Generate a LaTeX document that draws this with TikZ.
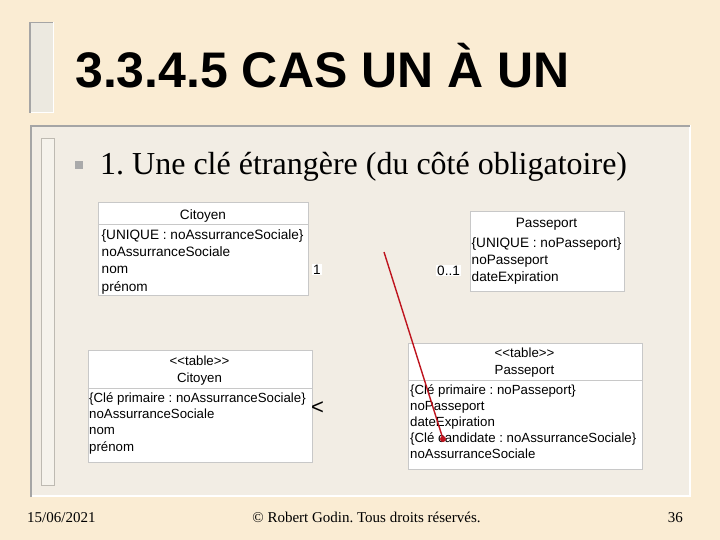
\documentclass[tikz,border=0pt]{standalone}
\usepackage{fontspec}
\setmainfont{Liberation Serif}
\setsansfont{Liberation Sans}
\frenchspacing
\definecolor{bgbeige}{RGB}{250,236,211}
\definecolor{framefill}{RGB}{242,237,228}
\definecolor{framegray}{RGB}{165,165,165}
\definecolor{barfill}{RGB}{236,233,224}
\definecolor{innerfill}{RGB}{246,243,236}
\definecolor{innergray}{RGB}{190,186,178}
\definecolor{boxgray}{RGB}{200,200,200}
\definecolor{bulletgray}{RGB}{170,170,170}
\definecolor{redline}{RGB}{190,20,30}
\begin{document}
\frenchspacing
\begin{tikzpicture}[x=1pt,y=-1pt,
  umlbox/.style={draw=boxgray, fill=white, line width=0.8pt, inner sep=0pt, anchor=north west},
  umltxt/.style={font=\sffamily\fontsize{13.6}{15}\selectfont, inner sep=0pt, anchor=base west},
  umlhead/.style={font=\sffamily\fontsize{13.6}{15}\selectfont, inner sep=0pt, anchor=base},
  tbltxt/.style={font=\sffamily\fontsize{13.25}{15}\selectfont, inner sep=0pt, anchor=base west},
  tblhead/.style={font=\sffamily\fontsize{13.25}{15}\selectfont, inner sep=0pt, anchor=base},
  multtxt/.style={font=\sffamily\fontsize{13.6}{15}\selectfont, fill=white, inner sep=1pt, anchor=base west},
  sepline/.style={draw=boxgray, line width=0.8pt},
  foottxt/.style={font=\fontsize{15}{17}\selectfont, inner sep=0pt},
]
\useasboundingbox (0,0) rectangle (720,540);
\fill[bgbeige] (0,0) rectangle (720,540);

% title bar
\fill[barfill] (29,22) rectangle (53,113);
\draw[white, line width=1pt] (53,22.5) -- (53,113) -- (29,113);
\draw[framegray, line width=1.5pt] (29.75,113) -- (29.75,22.75) -- (53,22.75);

% content frame
\fill[framefill] (30,125) rectangle (691,497);
\draw[white, line width=2pt] (690,125) -- (690,496) -- (30,496);
\draw[framegray, line width=2pt] (31,497) -- (31,126) -- (690,126);
\fill[innerfill] (41,138) rectangle (54,485);
\draw[innergray, line width=0.8pt] (41,138) rectangle (54,485);

% title
\node[font=\sffamily\bfseries\fontsize{50}{60}\selectfont, anchor=base west, inner sep=0pt] (title) at (75,88) {3.3.4.5 CAS UN À UN};

% bullet item
\node[fill=bulletgray, minimum size=8pt, inner sep=0pt] (bul) at (79,165.5) {};
\node[font=\fontsize{32}{36}\selectfont, anchor=base west, inner sep=0pt] (item) at (100,175) {1. Une clé étrangère (du côté obligatoire)};

% top Citoyen class
\node[umlbox, minimum width=210pt, minimum height=93pt] (cit1) at (98,202) {};
\draw[sepline] (98,224.5) -- (308,224.5);
\node[umlhead] (cit1h) at (203,219) {Citoyen};
\node[umltxt] (cit1a) at (101.5,239.5) {\{UNIQUE : noAssurranceSociale\}};
\node[umltxt] (cit1b) at (101.5,256.5) {noAssurranceSociale};
\node[umltxt] (cit1c) at (101.5,273.5) {nom};
\node[umltxt] (cit1d) at (101.5,291) {prénom};
\node[multtxt] (m1) at (312,274) {1};

% top Passeport class
\node[umlbox, minimum width=154pt, minimum height=80pt] (pas1) at (469.5,211) {};
\node[umlhead] (pas1h) at (546.5,227) {Passeport};
\node[umltxt] (pas1a) at (471.5,247.5) {\{UNIQUE : noPasseport\}};
\node[umltxt] (pas1b) at (471.5,264.5) {noPasseport};
\node[umltxt] (pas1c) at (471.5,281.5) {dateExpiration};
\node[multtxt] (m2) at (436,275) {0..1};

% bottom Citoyen table
\node[umlbox, minimum width=224pt, minimum height=112pt] (cit2) at (87.5,350) {};
\draw[sepline] (87.5,388) -- (311.5,388);
\node[tblhead] (cit2s) at (199.5,365) {<{}<table>{}>};
\node[tblhead] (cit2h) at (199.5,382.5) {Citoyen};
\node[tbltxt] (cit2a) at (89,402) {\{Clé primaire : noAssurranceSociale\}};
\node[tbltxt] (cit2b) at (89,418.5) {noAssurranceSociale};
\node[tbltxt] (cit2c) at (89,434.5) {nom};
\node[tbltxt] (cit2d) at (89,451) {prénom};
\node[font=\sffamily\fontsize{22}{22}\selectfont, anchor=base west, inner sep=0pt] (lt) at (311,414) {<};

% bottom Passeport table
\node[umlbox, minimum width=234pt, minimum height=126pt] (pas2) at (407.5,342.5) {};
\draw[sepline] (407.5,380) -- (641.5,380);
\node[tblhead] (pas2s) at (524.5,357) {<{}<table>{}>};
\node[tblhead] (pas2h) at (524.5,374.5) {Passeport};
\node[tbltxt] (pas2a) at (410,394) {\{Clé primaire : noPasseport\}};
\node[tbltxt] (pas2b) at (410,410.5) {noPasseport};
\node[tbltxt] (pas2c) at (410,426.5) {dateExpiration};
\node[tbltxt] (pas2d) at (410,442) {\{Clé candidate : noAssurranceSociale\}};
\node[tbltxt] (pas2e) at (410,458.5) {noAssurranceSociale};

% red line
\coordinate (rs) at (384,252);
\node[circle, fill=redline, inner sep=0pt, minimum size=6pt] (rdot) at (443,439) {};
\draw[redline, line width=1.4pt] (rs) -- (rdot.center);

% footer
\node[foottxt, anchor=base west] (date) at (27,522) {15/06/2021};
\node[foottxt, anchor=base] (copy) at (366.5,522) {© Robert Godin. Tous droits réservés.};
\node[foottxt, anchor=base east] (page) at (683,522) {36};
\end{tikzpicture}
\end{document}
